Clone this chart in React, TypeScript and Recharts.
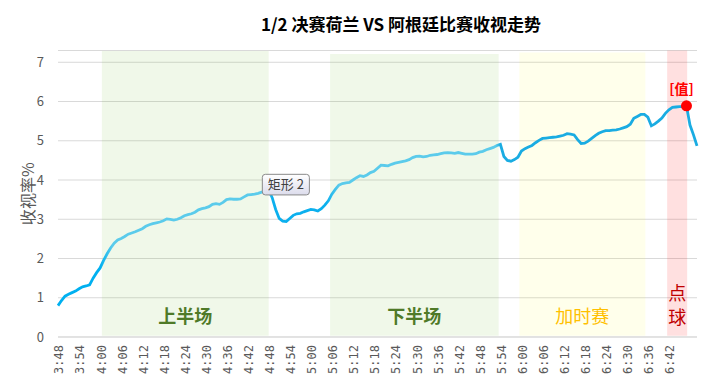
import { LineChart, Line, XAxis, YAxis, CartesianGrid, ReferenceArea, ReferenceDot } from "recharts";

// one reading per minute, 3:48 .. 6:50
const ratings = [
  0.8, 0.93, 1.04, 1.09, 1.13, 1.17, 1.23, 1.28, 1.3, 1.33,
  1.5, 1.64, 1.76, 1.95, 2.12, 2.27, 2.39, 2.47, 2.51, 2.56,
  2.62, 2.65, 2.68, 2.72, 2.76, 2.82, 2.86, 2.89, 2.91, 2.93,
  2.96, 3.01, 3.0, 2.98, 3.0, 3.04, 3.09, 3.12, 3.14, 3.18,
  3.24, 3.27, 3.29, 3.32, 3.38, 3.4, 3.38, 3.43, 3.5, 3.52,
  3.51, 3.51, 3.52, 3.57, 3.62, 3.63, 3.64, 3.66, 3.69, 3.71,
  3.73, 3.55, 3.25, 3.02, 2.95, 2.94, 3.02, 3.1, 3.14, 3.15,
  3.19, 3.22, 3.25, 3.24, 3.21, 3.27, 3.36, 3.47, 3.64, 3.76,
  3.87, 3.91, 3.93, 3.94, 4.0, 4.06, 4.11, 4.09, 4.13, 4.19,
  4.22, 4.3, 4.38, 4.37, 4.36, 4.4, 4.43, 4.45, 4.47, 4.49,
  4.52, 4.57, 4.6, 4.61, 4.59, 4.6, 4.63, 4.64, 4.65, 4.67,
  4.69, 4.7, 4.69, 4.68, 4.7, 4.68, 4.66, 4.66, 4.66, 4.67,
  4.71, 4.73, 4.77, 4.8, 4.83, 4.88, 4.91, 4.6, 4.5, 4.48,
  4.52, 4.58, 4.74, 4.8, 4.84, 4.88, 4.95, 5.01, 5.06, 5.07,
  5.08, 5.09, 5.1, 5.12, 5.14, 5.18, 5.17, 5.15, 5.03, 4.93,
  4.94, 4.99, 5.06, 5.13, 5.19, 5.23, 5.26, 5.26, 5.27, 5.28,
  5.3, 5.33, 5.36, 5.42, 5.57, 5.62, 5.67, 5.67, 5.6, 5.38,
  5.43, 5.5, 5.58, 5.7, 5.79, 5.85, 5.86, 5.87, 5.87, 5.89,
  5.4, 5.15, 4.87,
];

const tickLabels = [
  "3:48", "3:54", "4:00", "4:06", "4:12", "4:18", "4:24", "4:30", "4:36", "4:42",
  "4:48", "4:54", "5:00", "5:06", "5:12", "5:18", "5:24", "5:30", "5:36", "5:42",
  "5:48", "5:54", "6:00", "6:06", "6:12", "6:18", "6:24", "6:30", "6:36", "6:42",
];

const yTicks = [0, 1, 2, 3, 4, 5, 6, 7];

// match periods, in minutes after 3:48
const periods = [
  { name: "上半场", from: 12.5, to: 60, top: 7.29 },
  { name: "下半场", from: 77.5, to: 125.5, top: 7.21 },
  { name: "加时赛", from: 131.4, to: 167.3, top: 7.25 },
  { name: "点球", from: 173.5, to: 179.2, top: 7.3 },
];

const periodStyle = [
  { fill: "#6fba2c", opacity: 0.1, color: "#4f7a28", weight: "bold" },
  { fill: "#6fba2c", opacity: 0.1, color: "#4f7a28", weight: "bold" },
  { fill: "#ffff00", opacity: 0.08, color: "#ffc000", weight: "normal" },
  { fill: "#ff0000", opacity: 0.12, color: "#c00000", weight: "normal" },
];

const data = ratings.map((v, i) => ({ minute: i, rating: v }));
const lastMinute = ratings.length - 1;
const xTicks = tickLabels.map((_, k) => k * 6);
const peak = Math.max(...ratings);
const peakMinute = ratings.indexOf(peak);

const font = "'Noto Sans CJK SC', 'Noto Sans', sans-serif";

const TimeTick = ({ x, y, payload }: any) => (
  <text
    x={x}
    y={y}
    dy="0.45em"
    transform={`rotate(-90, ${x}, ${y})`}
    textAnchor="end"
    fill="#595959"
    fontSize={12}
    fontFamily="'DejaVu Sans Mono', monospace"
  >
    {tickLabels[Math.round(payload.value / 6)]}
  </text>
);

const periodLabel = (idx: number) => (props: any) => {
  const { x, y, width, height } = props.viewBox;
  const cx = x + width / 2;
  const bottom = y + height;
  const st = periodStyle[idx];
  const chars = periods[idx].name;
  if (chars.length === 2) {
    return (
      <g fill={st.color} fontSize={18} fontFamily={font} textAnchor="middle">
        <text x={cx} y={bottom - 36}>{chars[0]}</text>
        <text x={cx} y={bottom - 12}>{chars[1]}</text>
      </g>
    );
  }
  return (
    <text x={cx} y={bottom - 13} fill={st.color} fontSize={18} fontWeight={st.weight} fontFamily={font} textAnchor="middle">
      {chars}
    </text>
  );
};

const peakLabel = (props: any) => {
  const { x, y, width } = props.viewBox;
  return (
    <text x={x + width / 2 - 5} y={y - 6} fill="#ff0000" fontSize={14} fontWeight="bold" fontFamily={font} textAnchor="middle">
      [值]
    </text>
  );
};

const NoteBox = (props: any) => (
  <rect x={props.x} y={props.y} width={props.width} height={props.height} rx={3} fill="url(#noteFill)" stroke="#8a8a8a" strokeWidth={1} />
);

const noteLabel = (props: any) => {
  const { x, y, width, height } = props.viewBox;
  return (
    <text x={x + width / 2} y={y + height / 2} dy="0.35em" fill="#404040" fontSize={13} fontFamily={font} textAnchor="middle">
      矩形 2
    </text>
  );
};

export default function App() {
  return (
    <div style={{ position: "absolute", left: 0, top: 0, width: 720, height: 386, background: "#fff" }}>
      <div
        style={{
          position: "absolute",
          left: 82,
          top: 13,
          width: 638,
          textAlign: "center",
          fontFamily: font,
          fontWeight: "bold",
          fontSize: 17,
          lineHeight: "22px",
          color: "#000",
        }}
      >
        1/2 决赛荷兰 VS 阿根廷比赛收视走势
      </div>
      <LineChart width={720} height={386} data={data} margin={{ top: 50.5, right: 23, bottom: 0, left: 0 }}>
        <defs>
          <linearGradient id="lineStroke" x1="0" y1="0" x2="1" y2="0">
            <stop offset="0" stopColor="#00b0f0" />
            <stop offset="0.066" stopColor="#00b0f0" />
            <stop offset="0.085" stopColor="#5bcbeb" />
            <stop offset="0.329" stopColor="#5bcbeb" />
            <stop offset="0.335" stopColor="#0cb0ee" />
            <stop offset="0.42" stopColor="#0cb0ee" />
            <stop offset="0.44" stopColor="#5bcbeb" />
            <stop offset="0.685" stopColor="#5bcbeb" />
            <stop offset="0.692" stopColor="#1aace2" />
            <stop offset="1" stopColor="#1aace2" />
          </linearGradient>
          <linearGradient id="noteFill" x1="0" y1="0" x2="0" y2="1">
            <stop offset="0" stopColor="#ffffff" />
            <stop offset="1" stopColor="#dcdcec" />
          </linearGradient>
        </defs>
        <CartesianGrid vertical={false} stroke="#d9d9d9" />
        {periods.map((p, i) => (
          <ReferenceArea
            key={p.name}
            x1={p.from}
            x2={p.to}
            y1={0.03}
            y2={p.top}
            fill={periodStyle[i].fill}
            fillOpacity={periodStyle[i].opacity}
            stroke="none"
            label={periodLabel(i)}
          />
        ))}
        <XAxis
          dataKey="minute"
          type="number"
          domain={[0, lastMinute]}
          ticks={xTicks}
          interval={0}
          height={49}
          tick={<TimeTick />}
          tickLine={false}
          axisLine={{ stroke: "#d9d9d9" }}
        />
        <YAxis
          domain={[0, 7.3]}
          ticks={yTicks}
          width={58}
          tickLine={false}
          axisLine={false}
          tickMargin={8}
          tick={{ fill: "#595959", fontSize: 13, fontFamily: font }}
          label={{ value: "收视率%", angle: -90, position: "center", dx: -1, fill: "#595959", fontSize: 16, fontFamily: font }}
        />
        <Line
          type="linear"
          dataKey="rating"
          stroke="url(#lineStroke)"
          strokeWidth={2.8}
          dot={false}
          activeDot={false}
          isAnimationActive={false}
        />
        <ReferenceArea
          x1={58.2}
          x2={71.6}
          y1={3.62}
          y2={4.145}
          shape={NoteBox}
          label={noteLabel}
          zIndex={700}
        />
        <ReferenceDot x={peakMinute} y={peak} r={5.5} fill="#ff0000" stroke="none" label={peakLabel} />
      </LineChart>
    </div>
  );
}
